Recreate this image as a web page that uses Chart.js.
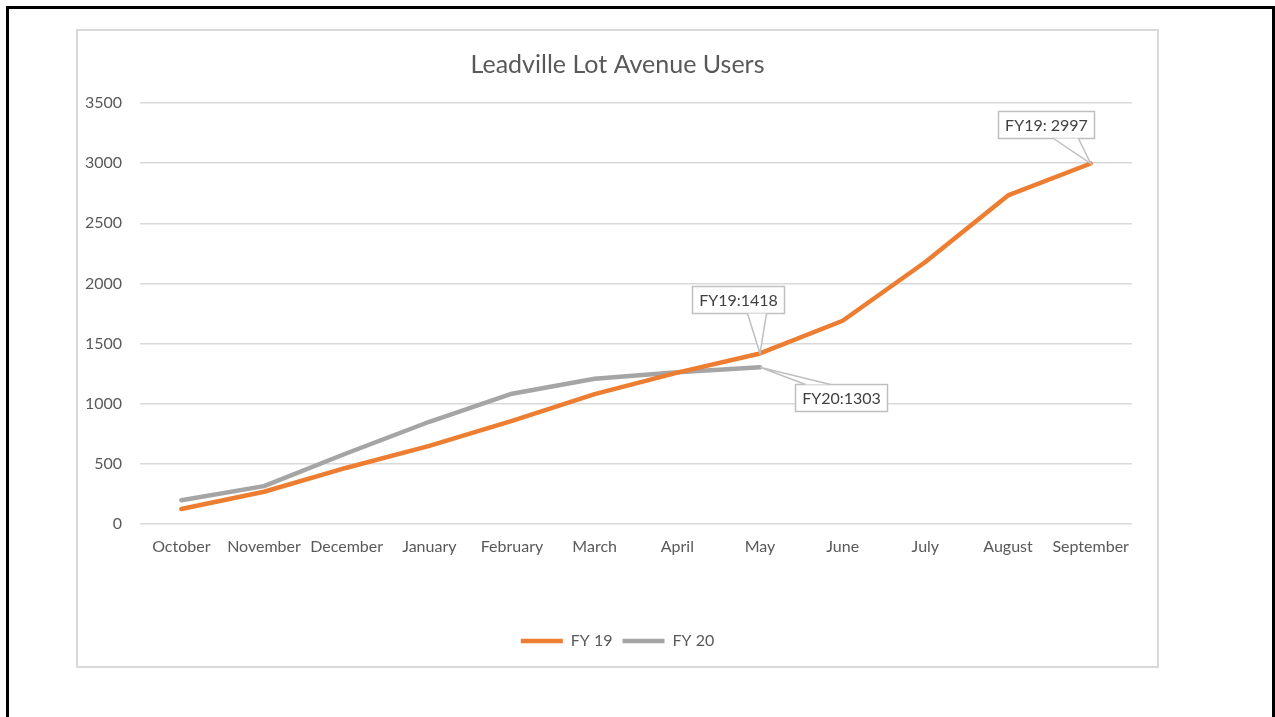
<!DOCTYPE html>
<html>
<head>
<meta charset="utf-8">
<script src="https://cdn.jsdelivr.net/npm/chart.js@4.4.0/dist/chart.umd.min.js"></script>
<style>
  html, body { margin: 0; padding: 0; background: #fff; overflow: hidden; }
  #frame { position: absolute; left: 6px; top: 6px; width: 1263px; height: 740px; border: 3px solid #000; border-bottom: none; }
  #box { position: absolute; left: 76px; top: 29px; width: 1083px; height: 639px; border: 2px solid #d9d9d9; box-sizing: border-box; background: #fff; }
  #box canvas { display: block; }
</style>
</head>
<body>
<div id="frame"></div>
<div id="box"><canvas id="chart" width="1079" height="635"></canvas></div>
<script>
const months = ['October','November','December','January','February','March','April','May','June','July','August','September'];
const fy19 = [125, 268, 468, 650, 858, 1080, 1258, 1418, 1690, 2178, 2732, 2997];
const fy20 = [198, 315, 588, 850, 1083, 1208, 1262, 1303];
const yTicks = [0, 500, 1000, 1500, 2000, 2500, 3000, 3500];

const font = 'Lato, "Liberation Sans", sans-serif';
const textCol = '#595959';

// callout boxes: dataset, point index, text, box offset from point
const callouts = [
  { ds: 0, i: 7, text: 'FY19:' + fy19[7], dx: -68, dy: -67, base: [55, 74] },
  { ds: 1, i: 7, text: 'FY20:' + fy20[7], dx: 35, dy: 17, base: [10, 35], top: true },
  { ds: 0, i: 11, text: 'FY19: ' + fy19[11], dx: -93, dy: -53, base: [55, 80] }
];

const calloutPlugin = {
  id: 'callouts',
  afterDatasetsDraw(chart) {
    const ctx = chart.ctx;
    ctx.save();
    ctx.font = '16px ' + font;
    callouts.forEach(c => {
      const pt = chart.getDatasetMeta(c.ds).data[c.i];
      const w = Math.round(ctx.measureText(c.text).width + 13);
      const h = 27;
      const x = Math.round(pt.x + c.dx) + 0.5, y = Math.round(pt.y + c.dy) + 0.5;
      const edgeY = c.top ? y : y + h;
      ctx.fillStyle = '#fff';
      ctx.strokeStyle = '#bfbfbf';
      ctx.lineWidth = 1.5;
      ctx.beginPath();
      ctx.rect(x, y, w, h);
      ctx.fill();
      ctx.stroke();
      // wedge to the point
      ctx.beginPath();
      ctx.moveTo(x + c.base[0], edgeY);
      ctx.lineTo(pt.x, pt.y);
      ctx.lineTo(x + c.base[1], edgeY);
      ctx.fill();
      ctx.stroke();
      ctx.fillStyle = '#404040';
      ctx.textAlign = 'center';
      ctx.textBaseline = 'middle';
      ctx.fillText(c.text, x + w / 2, y + h / 2 + 1);
    });
    ctx.restore();
  }
};

new Chart(document.getElementById('chart'), {
  type: 'line',
  data: {
    labels: months,
    datasets: [
      { label: 'FY 19', data: fy19, borderColor: '#ED7D31', backgroundColor: '#ED7D31', borderWidth: 4.5, pointRadius: 0, tension: 0, borderCapStyle: 'round', borderJoinStyle: 'round' },
      { label: 'FY 20', data: fy20, borderColor: '#A5A5A5', backgroundColor: '#A5A5A5', borderWidth: 4.5, pointRadius: 0, tension: 0, borderCapStyle: 'round', borderJoinStyle: 'round' }
    ]
  },
  options: {
    responsive: false,
    animation: false,
    layout: { padding: { left: 0, right: 0, top: 0, bottom: 7 } },
    scales: {
      x: {
        offset: true,
        grid: { display: false, drawTicks: false },
        border: { display: false },
        ticks: { color: textCol, font: { family: font, size: 16 }, padding: 13, maxRotation: 0, autoSkip: false },
        afterFit: s => { s.height = 99; }
      },
      y: {
        min: 0, max: 3500,
        afterBuildTicks: s => { s.ticks = yTicks.map(v => ({ value: v })); },
        grid: { color: '#d9d9d9', lineWidth: 1.5, drawTicks: false },
        border: { display: false },
        ticks: { color: textCol, font: { family: font, size: 16 }, padding: 18, callback: v => String(v) },
        afterFit: s => { s.width = 62; }
      },
      // empty right-hand spacer so title and legend centre on the whole box
      yRight: {
        position: 'right',
        min: 0, max: 3500,
        grid: { display: false, drawTicks: false },
        border: { display: false },
        ticks: { display: false },
        afterFit: s => { s.width = 25; }
      }
    },
    plugins: {
      title: { display: true, text: 'Leadville Lot Avenue Users', color: textCol, font: { family: font, size: 25, weight: 'normal' }, padding: { top: 19, bottom: 23 } },
      legend: {
        position: 'bottom',
        labels: { color: textCol, font: { family: font, size: 16 }, usePointStyle: true, pointStyle: 'line', pointStyleWidth: 42, padding: 10 }
      },
      tooltip: { enabled: false }
    }
  },
  plugins: [calloutPlugin]
});
</script>
</body>
</html>
